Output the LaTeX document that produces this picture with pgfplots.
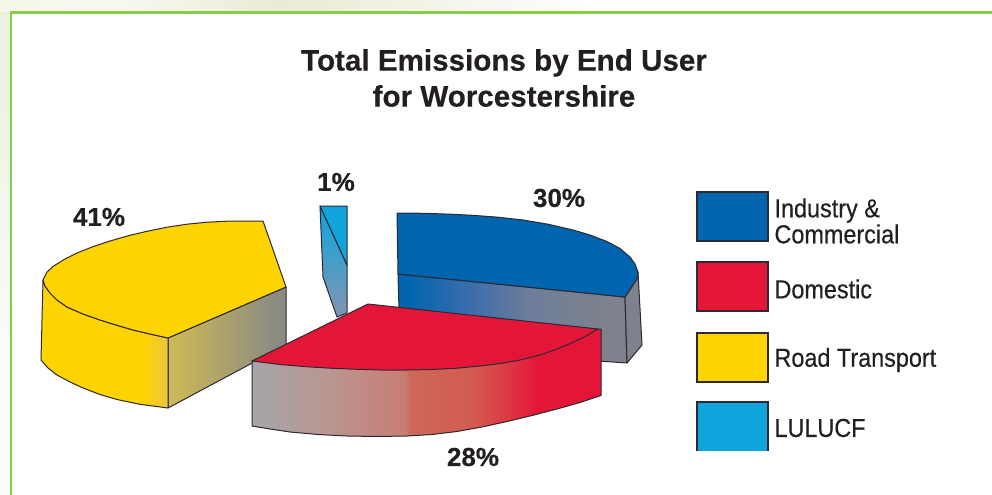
\documentclass[border=0pt]{standalone}
\usepackage{pgfplots}
\pgfplotsset{compat=1.18}
\usepackage{fontspec}
\setmainfont{Liberation Sans}
\newfontfamily\legendfont[FakeStretch=0.9,FakeBold=0.35]{Liberation Sans}
\newfontfamily\heavy[FakeBold=0.35]{Liberation Sans Bold}
\definecolor{frameg}{RGB}{138,204,70}
\definecolor{edge}{RGB}{45,40,50}
\definecolor{cblue}{RGB}{0,100,175}
\definecolor{cred}{RGB}{228,22,55}
\definecolor{cyel}{RGB}{255,212,0}
\definecolor{ccya}{RGB}{15,165,220}
\definecolor{ink}{RGB}{35,31,32}
\definecolor{ra}{RGB}{165,165,170}
\definecolor{rb}{RGB}{185,150,145}
\definecolor{rc}{RGB}{200,125,115}
\definecolor{rd}{RGB}{205,105,90}
\definecolor{re}{RGB}{212,90,80}
\definecolor{ba}{RGB}{60,110,170}
\definecolor{bb}{RGB}{110,125,155}
\definecolor{bc}{RGB}{125,130,140}
\definecolor{ya}{RGB}{208,186,85}
\definecolor{yb}{RGB}{140,140,130}
\definecolor{yc}{RGB}{235,198,65}
\definecolor{ca}{RGB}{120,150,180}
\definecolor{cb}{RGB}{20,165,220}
\definecolor{ta}{RGB}{243,246,232}
\definecolor{tb}{RGB}{248,250,242}
\definecolor{tc}{RGB}{232,236,216}
\definecolor{td}{RGB}{240,242,228}
\definecolor{la}{RGB}{236,241,224}
\definecolor{lb}{RGB}{250,252,250}
\pgfdeclarehorizontalshading{redface}{100bp}{
 color(0bp)=(ra); color(25bp)=(ra); color(36bp)=(rb); color(47bp)=(rc); color(47.5bp)=(rd);
 color(57bp)=(re); color(66bp)=(cred); color(100bp)=(cred)}
\pgfdeclarehorizontalshading{blueface}{100bp}{
 color(0bp)=(cblue); color(27bp)=(cblue); color(41bp)=(ba); color(54bp)=(bb); color(70bp)=(bc); color(100bp)=(bc)}
\pgfdeclarehorizontalshading{yelface}{100bp}{
 color(0bp)=(ya); color(25bp)=(ya); color(70bp)=(yb); color(100bp)=(yb)}
\pgfdeclarehorizontalshading{yelfront}{100bp}{
 color(0bp)=(cyel); color(65bp)=(cyel); color(75bp)=(yc); color(100bp)=(yc)}
\pgfdeclareverticalshading{cyaface}{100bp}{
 color(0bp)=(ca); color(30bp)=(ca); color(70bp)=(cb); color(100bp)=(cb)}
\pgfdeclarehorizontalshading{topstrip}{100bp}{
 color(0bp)=(ta); color(25bp)=(ta); color(30bp)=(tb); color(39bp)=(tc); color(45bp)=(td); color(55bp)=(white); color(100bp)=(white)}
\pgfdeclareverticalshading{leftstrip}{100bp}{
 color(0bp)=(lb); color(40bp)=(lb); color(68bp)=(la); color(100bp)=(la)}
\begin{document}
\begin{tikzpicture}
\begin{axis}[
  hide axis, scale only axis, width=992bp, height=495bp,
  xmin=0, xmax=992, ymin=0, ymax=495, y dir=reverse, clip=true]
% background and frame
\addplot[draw=none, shading=leftstrip] coordinates {(0,0)(12,0)(12,495)(0,495)} --cycle;
\addplot[draw=none, shading=topstrip] coordinates {(0,0)(992,0)(992,12)(0,12)} --cycle;
\addplot[draw=frameg, line width=2.8bp, fill=white] coordinates {(11,12.3)(1000,12.3)(1000,505)(11,505)} --cycle;
% Road Transport 41%
\addplot[draw=edge, line width=1bp, shading=yelface, line join=round] coordinates {(168,338)(286,287)(286,345)(168,408)} --cycle;
\addplot[draw=edge, line width=1bp, shading=yelfront, line join=round] coordinates {(43,280)(41,360)(48,368)(57,375)(70,382)(83,388)(100,394.5)(117,399.5)(140,404.3)(168,408)(168,338)(150,334)(133,330)(116,325)(100,320)(83,314)(67,307)(57,300)(50,293)(45,286)} --cycle;
\addplot[draw=edge, line width=1bp, fill=cyel, line join=round] coordinates {(168,338)(286,287)(263,221)(245,221)(227,221.2)(207,222.2)(187,224.2)(167,227.2)(147,231.3)(128,235.8)(110,241)(92,247)(77,253)(64,259.5)(53,266.5)(47,272)(43,280)(45,286)(50,293)(57,300)(67,307)(83,314)(100,320)(116,325)(133,330)(150,334)} --cycle;
% LULUCF 1%
\addplot[draw=edge, line width=1bp, shading=cyaface, line join=round] coordinates {(320,206)(347,265)(347,313)(337,317)(323,277)} --cycle;
\addplot[draw=edge, line width=1bp, fill=ccya, line join=round] coordinates {(320,206)(347,206)(347,265)} --cycle;
% Industry & Commercial 30%
\addplot[draw=edge, line width=1bp, shading=blueface, line join=round] coordinates {(398,274)(625,297)(627,363)(598,361)(399,310)} --cycle;
\addplot[draw=edge, line width=1bp, fill=bc, line join=round] coordinates {(625,297)(633,285)(638,272)(642,345)(627,363)} --cycle;
\addplot[draw=edge, line width=1bp, fill=cblue, line join=round] coordinates {(397,213)(425,213.3)(453,214.3)(473,215.3)(498,217.2)(523,220)(548,224.2)(573,230)(590,235)(607,241.5)(620,248.5)(630,257)(635,264)(638,272)(637,279)(633,285)(625,297)(398,274)} --cycle;
% Domestic 28%
\addplot[draw=edge, line width=1bp, shading=redface, line join=round] coordinates {(252,361)(252,426)(270,429)(290,432)(318,434.5)(347,436)(377,436.5)(407,436)(432,434.5)(457,431.5)(482,427)(507,421.5)(532,415.5)(557,409)(580,402.5)(601,395.5)(601,329)} --cycle;
\addplot[draw=edge, line width=1bp, fill=cred, line join=round] coordinates {(252,361)(368,304)(598,329)(586,336)(573,342.3)(557,349)(540,355)(520,360)(500,363.5)(480,366)(457,368.2)(432,369.5)(407,370)(382,370)(357,369.3)(332,368.3)(307,366.8)(280,364.5)} --cycle;
% legend swatches
\addplot[draw=edge, line width=1.3bp, fill=cblue] coordinates {(697,192)(768,192)(768,241)(697,241)} --cycle;
\addplot[draw=edge, line width=1.3bp, fill=cred] coordinates {(697,262)(768,262)(768,311)(697,311)} --cycle;
\addplot[draw=edge, line width=1.3bp, fill=cyel] coordinates {(697,333)(768,333)(768,382)(697,382)} --cycle;
\addplot[draw=none, fill=ccya] coordinates {(697,402)(768,402)(768,451)(697,451)} --cycle;
\addplot[draw=edge, line width=1.3bp] coordinates {(697,451)(697,402)(768,402)(768,451)};
% text
\node[font=\fontsize{29.6bp}{36bp}\selectfont\heavy, text=ink, align=center] at (axis cs:504,78) {Total Emissions by End User\\for Worcestershire};
\node[font=\fontsize{26bp}{26bp}\selectfont\heavy, text=ink] at (axis cs:99,217) {41\%};
\node[font=\fontsize{26bp}{26bp}\selectfont\heavy, text=ink] at (axis cs:336,182) {1\%};
\node[font=\fontsize{26bp}{26bp}\selectfont\heavy, text=ink] at (axis cs:559,198) {30\%};
\node[font=\fontsize{26bp}{26bp}\selectfont\heavy, text=ink] at (axis cs:473,457) {28\%};
\node[font=\fontsize{26bp}{26bp}\selectfont\legendfont, text=ink, anchor=west, align=left] at (axis cs:771,221) {Industry \&\\Commercial};
\node[font=\fontsize{26bp}{26bp}\selectfont\legendfont, text=ink, anchor=west] at (axis cs:771,289) {Domestic};
\node[font=\fontsize{26bp}{26bp}\selectfont\legendfont, text=ink, anchor=west] at (axis cs:771,360) {Road Transport};
\node[font=\fontsize{26bp}{26bp}\selectfont\legendfont, text=ink, anchor=west] at (axis cs:771,428) {LULUCF};
\end{axis}
\end{tikzpicture}
\end{document}
